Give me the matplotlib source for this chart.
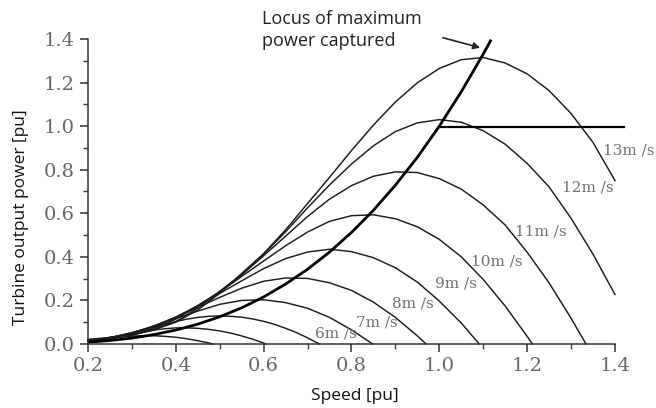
import matplotlib
matplotlib.use('Agg')
import matplotlib.pyplot as plt
from matplotlib.ticker import MultipleLocator

plt.rcParams['font.family'] = 'DejaVu Serif'

# rotor speed samples [pu] used when reading the curves
speed_grid = [0.20, 0.25, 0.30, 0.35, 0.40, 0.45, 0.50, 0.55, 0.60, 0.65, 0.70, 0.75, 0.80,
              0.85, 0.90, 0.95, 1.00, 1.05, 1.10, 1.15, 1.20, 1.25, 1.30, 1.35, 1.40]
fine_grid = [0.200, 0.225, 0.250, 0.275, 0.300, 0.325, 0.350, 0.375, 0.400, 0.425, 0.450,
             0.475, 0.500, 0.525, 0.550, 0.575, 0.600, 0.625, 0.650, 0.675, 0.700]

# turbine power [pu] for each wind speed
p_13 = [0.021, 0.030, 0.042, 0.066, 0.100, 0.156, 0.233, 0.324, 0.415, 0.524, 0.645, 0.765, 0.888,
        1.005, 1.111, 1.199, 1.265, 1.305, 1.315, 1.290, 1.240, 1.163, 1.058, 0.925, 0.750]
p_12 = [0.019, 0.027, 0.041, 0.064, 0.103, 0.165, 0.242, 0.319, 0.412, 0.515, 0.625, 0.730, 0.826,
        0.910, 0.975, 1.015, 1.030, 1.018, 0.979, 0.917, 0.829, 0.721, 0.577, 0.412, 0.227]
p_11 = [0.017, 0.026, 0.041, 0.068, 0.114, 0.176, 0.240, 0.317, 0.405, 0.495, 0.585, 0.665, 0.727,
        0.770, 0.790, 0.787, 0.759, 0.711, 0.638, 0.546, 0.421, 0.280, 0.118, 0.0]
p_10 = [0.014, 0.024, 0.041, 0.074, 0.122, 0.176, 0.238, 0.310, 0.381, 0.451, 0.514, 0.563, 0.589,
        0.593, 0.575, 0.538, 0.480, 0.400, 0.296, 0.174, 0.035, 0.0]
p_9 = [0.013, 0.024, 0.044, 0.081, 0.124, 0.174, 0.232, 0.290, 0.346, 0.392, 0.422, 0.435, 0.424,
       0.396, 0.350, 0.284, 0.197, 0.096, 0.0]
p_8 = [0.012, 0.025, 0.049, 0.083, 0.122, 0.168, 0.214, 0.256, 0.288, 0.303, 0.301, 0.281, 0.246,
       0.192, 0.122, 0.037, 0.0]
p_7 = [0.012, 0.028, 0.052, 0.082, 0.117, 0.151, 0.182, 0.200, 0.203, 0.190, 0.164, 0.122, 0.065, 0.0]
p_6 = [0.013, 0.021, 0.030, 0.040, 0.052, 0.065, 0.077, 0.090, 0.103, 0.114, 0.122, 0.127, 0.129,
       0.127, 0.123, 0.115, 0.104, 0.090, 0.072, 0.052, 0.028, 0.0]
p_5 = [0.015, 0.022, 0.030, 0.039, 0.048, 0.056, 0.064, 0.070, 0.074, 0.074, 0.072, 0.067, 0.060,
       0.050, 0.037, 0.022, 0.0]
p_4 = [0.015, 0.021, 0.027, 0.032, 0.036, 0.038, 0.038, 0.035, 0.031, 0.024, 0.015, 0.005, 0.0]

x_13 = speed_grid
x_12 = speed_grid
x_11 = speed_grid[:23] + [1.334]
x_10 = speed_grid[:21] + [1.212]
x_9 = speed_grid[:18] + [1.091]
x_8 = speed_grid[:16] + [0.970]
x_7 = speed_grid[:13] + [0.848]
x_6 = fine_grid + [0.727]
x_5 = fine_grid[:16] + [0.606]
x_4 = fine_grid[:12] + [0.485]

# maximum power locus and rated power limit
locus_x = [0.20, 0.25, 0.30, 0.35, 0.40, 0.45, 0.50, 0.55, 0.60, 0.65, 0.70, 0.75, 0.80,
           0.85, 0.90, 0.95, 1.00, 1.05, 1.10, 1.118]
locus_p = [0.008, 0.016, 0.027, 0.043, 0.064, 0.091, 0.125, 0.166, 0.216, 0.275, 0.343, 0.422,
           0.512, 0.614, 0.729, 0.857, 1.000, 1.158, 1.331, 1.397]
limit_x = [1.0, 1.42]
limit_p = [0.995, 0.995]

labels = ['13m /s', '12m /s', '11m /s', '10m /s', '9m /s', '8m /s', '7m /s', '6m /s']

fig = plt.figure(figsize=(6.56, 4.08), dpi=100)
ax = fig.add_axes([0.1341, 0.1569, 0.8034, 0.7475])

line_col = '#1c1c1c'
for xs, ps in [(x_13, p_13), (x_12, p_12), (x_11, p_11), (x_10, p_10), (x_9, p_9),
               (x_8, p_8), (x_7, p_7), (x_6, p_6), (x_5, p_5), (x_4, p_4)]:
    ax.plot(xs, ps, color=line_col, lw=1.05, clip_on=False)

ax.plot(locus_x, locus_p, color='#000000', lw=2.0, clip_on=False, solid_capstyle='butt')
ax.plot(limit_x, limit_p, color='#000000', lw=1.6, clip_on=False)

label_pos = [(1.431, 0.89), (1.337, 0.717), (1.232, 0.515), (1.131, 0.377),
             (1.038, 0.276), (0.94, 0.184), (0.857, 0.097), (0.764, 0.046)]
for txt, (lx, ly) in zip(labels, label_pos):
    ax.text(lx, ly, txt, ha='center', va='center', fontsize=11, color='#707070', clip_on=False)

ax.annotate('', xy=(1.093, 1.36), xytext=(1.008, 1.406),
            arrowprops=dict(arrowstyle='-|>', color='#222222', lw=1.2, mutation_scale=10,
                            shrinkA=0, shrinkB=0),
            annotation_clip=False)
ax.text(0.597, 1.535, 'Locus of maximum\npower captured', ha='left', va='top',
        fontsize=13, family='Open Sans', color='#222222', linespacing=1.3, clip_on=False)

ax.set_xlim(0.2, 1.4)
ax.set_ylim(0.0, 1.4)
ax.xaxis.set_major_locator(MultipleLocator(0.2))
ax.xaxis.set_minor_locator(MultipleLocator(0.1))
ax.yaxis.set_major_locator(MultipleLocator(0.2))
ax.yaxis.set_minor_locator(MultipleLocator(0.1))

for side in ['top', 'right']:
    ax.spines[side].set_visible(False)
for side in ['left', 'bottom']:
    ax.spines[side].set_color('#333333')
    ax.spines[side].set_linewidth(1.1)

ax.tick_params(which='major', direction='out', length=6, width=1.1, color='#333333',
               labelsize=14, labelcolor='#666666')
ax.tick_params(which='minor', direction='out', length=3.5, width=1.0, color='#333333')

ax.set_xlabel('Speed [pu]', family='Open Sans', fontsize=12.5, color='#111111')
ax.set_ylabel('Turbine output power [pu]', family='Open Sans', fontsize=12.5, color='#111111')
ax.xaxis.set_label_coords(0.507, -0.145)
ax.yaxis.set_label_coords(-0.112, 0.416)

fig.savefig('out.png', dpi=100)
